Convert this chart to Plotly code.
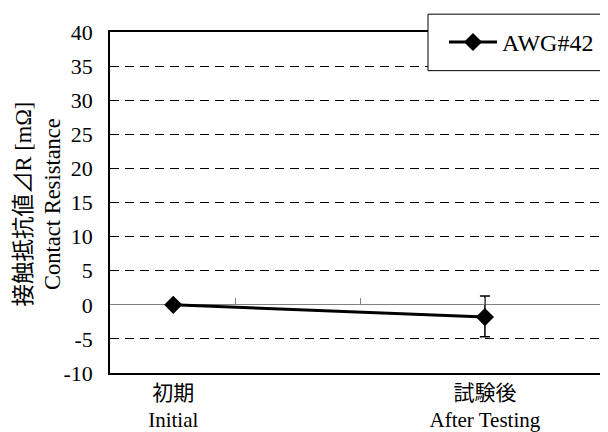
import plotly.graph_objects as go

# ---- data ----
categories = ["初期<br>Initial", "試験後<br>After Testing"]
series_name = "AWG#42"
values = [0.0, -1.8]
err_plus = [0.0, 3.1]
err_minus = [0.0, 2.9]
y_ticks = [-10, -5, 0, 5, 10, 15, 20, 25, 30, 35, 40]
y_tick_labels = ["-10", "-5", "0", "5", "10", "15", "20", "25", "30", "35", "40"]

FONT = "Liberation Serif, Times New Roman, Noto Sans CJK JP"
OFF = 8  # default page body margin
W, H = 608 - OFF, 432 - OFF
# plot area in reference (window) pixels
L_REF, R_REF, T_REF, B_REF = 110, 608, 32, 376
ML, MR, MT, MB = L_REF - OFF, OFF + W - R_REF, T_REF - OFF, OFF + H - B_REF
XR = [-0.203, 1.395]

fig = go.Figure()
fig.add_trace(go.Scatter(
    x=categories, y=values, name=series_name, mode="lines+markers",
    line=dict(color="black", width=3),
    marker=dict(symbol="diamond", size=14, color="black"),
    error_y=dict(type="data", symmetric=False, array=err_plus, arrayminus=err_minus,
                 color="black", thickness=1.5, width=5),
))
# helper trace for the tick marks along the zero line
fig.add_trace(go.Scatter(x=[], y=[], xaxis="x2", showlegend=False, hoverinfo="skip"))

pw = R_REF - L_REF
ph = B_REF - T_REF
def px_x(p):
    return (p - L_REF) / pw
def px_y(p):
    return (B_REF - p) / ph

fig.update_layout(
    width=W, height=H,
    margin=dict(l=ML, r=MR, t=MT, b=MB, pad=0),
    paper_bgcolor="white", plot_bgcolor="white",
    font=dict(family=FONT, size=21, color="black"),
    xaxis=dict(type="category", range=XR, showgrid=False, zeroline=False,
               showline=True, linecolor="black", linewidth=1.5, mirror=True,
               ticks="", tickfont=dict(size=21)),
    xaxis2=dict(overlaying="x", anchor="free", position=0.2, range=XR,
                tickmode="array", tickvals=[0.2, 0.6, 1.0],
                ticks="inside", ticklen=7, tickcolor="#808080", tickwidth=1,
                showticklabels=False, showgrid=False, zeroline=False, showline=False),
    yaxis=dict(range=[-10, 40], tickmode="array", tickvals=y_ticks, ticktext=y_tick_labels,
               showgrid=True, gridcolor="black", gridwidth=1, griddash="9px,6px",
               zeroline=True, zerolinecolor="#808080", zerolinewidth=1,
               showline=True, linecolor="black", linewidth=1.5, mirror=False,
               ticks="", ticklabelstandoff=11, tickfont=dict(size=22)),
    showlegend=True,
    legend=dict(x=px_x(444), y=px_y(42.5), xanchor="left", yanchor="middle",
                bgcolor="rgba(0,0,0,0)", borderwidth=0, font=dict(size=24),
                itemwidth=48),
    shapes=[dict(type="rect", xref="paper", yref="paper",
                 x0=px_x(428), x1=1.01, y0=px_y(71), y1=px_y(14),
                 fillcolor="white", line=dict(color="black", width=1), layer="above")],
    annotations=[dict(text="接触抵抗値⊿R [mΩ]<br>Contact Resistance",
                      xref="paper", yref="paper", x=px_x(38), y=px_y(206),
                      xanchor="center", yanchor="middle", textangle=-90,
                      showarrow=False, font=dict(size=22.5))],
)

fig.write_html("out.html")
